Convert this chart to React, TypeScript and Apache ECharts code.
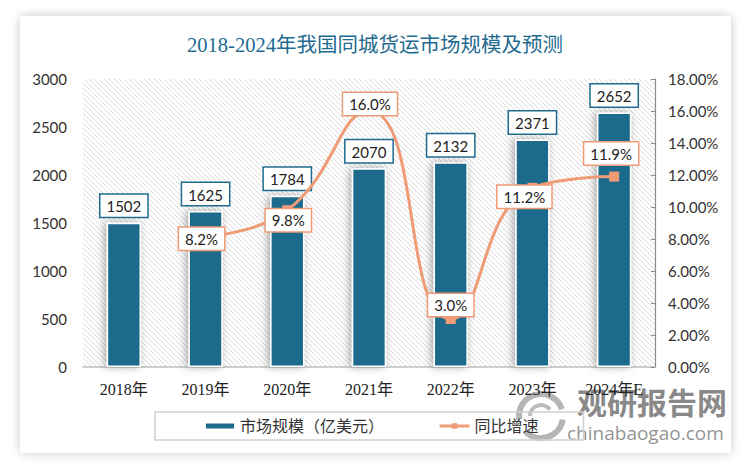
import React, { useEffect, useRef } from 'react';
import * as echarts from 'echarts';

const years = ['2018年', '2019年', '2020年', '2021年', '2022年', '2023年', '2024年E'];
const marketSize = [1502, 1625, 1784, 2070, 2132, 2371, 2652];
const growthRate: (number | null)[] = [null, 8.2, 9.8, 16.0, 3.0, 11.2, 11.9];
const growthLabelOffsets = [[0, 0], [-4, 3], [1, 10], [1, -7], [0, -14], [-8, 9], [-3, -23]];

const TITLE = '2018-2024年我国同城货运市场规模及预测';
const SERIES_BAR = '市场规模（亿美元）';
const SERIES_LINE = '同比增速';

const BAR_COLOR = '#1c6a8c';
const LINE_COLOR = '#ee9b76';
const SERIF = '"Liberation Serif", "DejaVu Serif", "Noto Sans CJK SC", serif';
const SANS = 'Lato, "Noto Sans CJK SC", sans-serif';

function makeHatch() {
  const s = 5;
  const c = document.createElement('canvas');
  c.width = s;
  c.height = s;
  const ctx = c.getContext('2d')!;
  ctx.fillStyle = '#ffffff';
  ctx.fillRect(0, 0, s, s);
  ctx.strokeStyle = '#d9d9d9';
  ctx.lineWidth = 1;
  ctx.beginPath();
  ctx.moveTo(0, 0); ctx.lineTo(s, s);
  ctx.moveTo(-s, 0); ctx.lineTo(s, 2 * s);
  ctx.moveTo(0, -s); ctx.lineTo(2 * s, s);
  ctx.stroke();
  return c;
}

export default function App() {
  const ref = useRef<HTMLDivElement>(null);
  useEffect(() => {
    if (!ref.current) return;
    const chart = echarts.init(ref.current, undefined, { renderer: 'svg' });
    const hatch = makeHatch();
    chart.setOption({
      animation: false,
      backgroundColor: 'transparent',
      title: {
        text: TITLE,
        left: 'center',
        top: 30,
        textStyle: { fontFamily: SERIF, fontSize: 20.5, fontWeight: 'normal', color: '#1e6b8f' },
      },
      grid: {
        left: 83,
        right: 95,
        top: 79,
        bottom: 104,
        show: true,
        borderWidth: 0,
        backgroundColor: { image: hatch, repeat: 'repeat', imageWidth: 5, imageHeight: 5 } as any,
      },
      legend: {
        left: 155,
        top: 412,
        itemGap: 54,
        padding: [6, 45, 6, 49],
        borderColor: '#d0d0d0',
        borderWidth: 1.5,
        itemWidth: 30,
        itemHeight: 7,
        textStyle: { fontFamily: SERIF, fontSize: 16, color: '#333' },
        data: [
          { name: SERIES_BAR, icon: 'rect' },
          { name: SERIES_LINE, itemStyle: { color: LINE_COLOR }, lineStyle: { width: 3 } },
        ],
      },
      xAxis: {
        type: 'category',
        data: years,
        axisLine: { lineStyle: { color: '#bfbfbf', width: 1.5 } },
        axisTick: { show: false },
        axisLabel: { fontFamily: SERIF, fontSize: 16, color: '#222', margin: 14 },
      },
      yAxis: [
        {
          type: 'value',
          min: 0,
          max: 3000,
          interval: 500,
          axisLine: { show: false },
          axisTick: { show: false },
          splitLine: { show: false },
          axisLabel: {
            fontFamily: SANS,
            fontSize: 15,
            color: '#333',
            margin: 16,
            formatter: (v: number) => String(v),
          },
        },
        {
          type: 'value',
          min: 0,
          max: 18,
          interval: 2,
          axisLine: { show: true, lineStyle: { color: '#8c8c8c', width: 1.2 } },
          axisTick: { show: true, inside: true, length: 4, lineStyle: { color: '#8c8c8c' } },
          splitLine: { show: false },
          axisLabel: {
            fontFamily: SANS,
            fontSize: 15,
            color: '#333',
            margin: 13,
            formatter: (v: number) => v.toFixed(2) + '%',
          },
        },
      ],
      series: [
        {
          name: SERIES_BAR,
          type: 'bar',
          data: marketSize,
          barWidth: '42%',
          itemStyle: {
            color: BAR_COLOR,
            borderColor: '#ffffff',
            borderWidth: 1.5,
            shadowBlur: 8,
            shadowOffsetX: -2,
            shadowColor: 'rgba(0,0,0,0.35)',
          },
          label: {
            show: true,
            position: 'top',
            distance: 6,
            fontFamily: SANS,
            fontSize: 15,
            color: '#222',
            backgroundColor: '#ffffff',
            borderColor: '#1e6b8f',
            borderWidth: 1.5,
            padding: [4, 6, 3, 6],
          },
        },
        {
          name: SERIES_LINE,
          type: 'line',
          yAxisIndex: 1,
          smooth: true,
          data: growthRate.map((v, i) =>
            v == null ? '-' : { value: v, label: { offset: growthLabelOffsets[i] } }
          ),
          symbol: 'rect',
          symbolSize: 10,
          lineStyle: { color: LINE_COLOR, width: 3 },
          itemStyle: { color: LINE_COLOR },
          label: {
            show: true,
            position: 'inside',
            fontFamily: SANS,
            fontSize: 15,
            color: '#222',
            backgroundColor: '#ffffff',
            borderColor: LINE_COLOR,
            borderWidth: 1.5,
            padding: [4, 6, 3, 6],
            formatter: (p: any) => Number(p.value).toFixed(1) + '%',
          },
          z: 5,
        },
      ],
      graphic: [
        {
          type: 'group',
          z: 100,
          silent: true,
          children: [
            { type: 'arc', shape: { cx: 541, cy: 416, r: 22, startAngle: Math.PI * 0.95, endAngle: Math.PI * 1.9 }, style: { stroke: 'rgba(120,120,120,0.55)', lineWidth: 6, fill: 'none' } },
            { type: 'arc', shape: { cx: 541, cy: 416, r: 22, startAngle: Math.PI * 0.05, endAngle: Math.PI * 0.75 }, style: { stroke: 'rgba(120,120,120,0.55)', lineWidth: 6, fill: 'none' } },
            { type: 'arc', shape: { cx: 541, cy: 416, r: 11, startAngle: Math.PI * 1.0, endAngle: Math.PI * 1.8 }, style: { stroke: 'rgba(120,120,120,0.5)', lineWidth: 4, fill: 'none' } },
            { type: 'text', x: 577, y: 386, style: { text: '观研报告网', font: 'bold 30px "Noto Sans CJK SC", sans-serif', fill: 'rgba(105,105,105,0.8)' } },
            { type: 'text', x: 567, y: 423, style: { text: 'chinabaogao.com', font: '19px "Open Sans", sans-serif', fill: 'rgba(110,110,110,0.75)' } },
          ],
        },
      ],
    });
    return () => chart.dispose();
  }, []);
  return (
    <div style={{ position: 'fixed', left: 0, top: 0, width: 750, height: 471, background: '#ffffff' }}>
      <div
        style={{
          position: 'absolute',
          left: 20,
          top: 16,
          width: 711,
          height: 437,
          background: '#ffffff',
          boxShadow: '0 0 10px rgba(0,0,0,0.22)',
        }}
      />
      <div ref={ref} style={{ position: 'absolute', left: 0, top: 0, width: 750, height: 471 }} />
    </div>
  );
}
